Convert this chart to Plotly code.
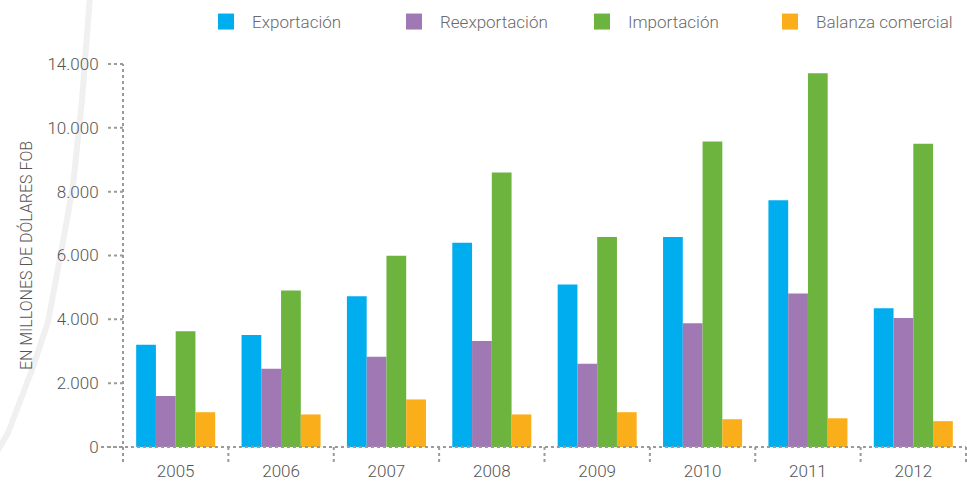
import plotly.graph_objects as go

years = ["2005", "2006", "2007", "2008", "2009", "2010", "2011", "2012"]
exportacion = [3200, 3510, 4720, 6400, 5090, 6580, 7730, 4350]
reexportacion = [1600, 2450, 2830, 3320, 2610, 3880, 4810, 4040]
importacion = [3630, 4900, 5990, 8600, 6580, 9570, 11710, 9500]
balanza = [1090, 1020, 1490, 1020, 1090, 870, 900, 810]

series_names = ["Exportación", "Reexportación", "Importación", "Balanza comercial"]
series_values = [exportacion, reexportacion, importacion, balanza]
series_colors = ["#00AEEF", "#A078B4", "#6DB43F", "#FAAE1A"]

y_tickvals = [0, 2000, 4000, 6000, 8000, 10000, 12000]
y_ticktext = ["0", "2.000", "4.000", "6.000", "8.000", "10.000", "14.000"]
y_max = 12000

COND = "Roboto, Liberation Sans, sans-serif"
TXT = "#555555"
DOT = "#9a9a9a"

fig = go.Figure()
for name, vals, col in zip(series_names, series_values, series_colors):
    fig.add_trace(go.Bar(x=years, y=vals, name=name, marker=dict(color=col, line=dict(width=0)),
                         showlegend=False))
# legend proxies (draw nothing, only legend squares)
for name, col in zip(series_names, series_colors):
    fig.add_trace(go.Scatter(x=[None], y=[None], mode="markers", name=name,
                             marker=dict(symbol="square", size=18, color=col)))

W, H = 967, 487
L, R, T, B = 123, 1, 64, 40
pw, ph = W - L - R, H - T - B

def px_to_paper(px, py):
    return (px - L) / pw, (H - B - py) / ph

shapes = []
line_style = dict(color=DOT, width=2, dash="dot")
# y axis line
shapes.append(dict(type="line", xref="paper", yref="paper", x0=0, x1=0, y0=-15 / ph, y1=1, line=line_style))
# x axis line
shapes.append(dict(type="line", xref="paper", yref="paper", x0=-22 / pw, x1=1, y0=0, y1=0, line=line_style))
# y ticks
for v in y_tickvals:
    yp = v / y_max
    shapes.append(dict(type="line", xref="paper", yref="paper", x0=-15 / pw, x1=0, y0=yp, y1=yp, line=line_style))
# x ticks at category boundaries
n = len(years)
for i in range(n + 1):
    xp = i / n
    shapes.append(dict(type="line", xref="paper", yref="paper", x0=xp, x1=xp, y0=0, y1=-15 / ph, line=line_style))

# decorative background arc
arc_px = [(90, -5), (82, 100), (73, 185), (63, 242), (48, 322), (33, 367), (8, 433), (-5, 455)]
pts = [px_to_paper(a, b) for a, b in arc_px]
path = "M " + " L ".join(f"{x:.4f},{y:.4f}" for x, y in pts)
shapes.append(dict(type="path", xref="paper", yref="paper", path=path, layer="below",
                   fillcolor="rgba(0,0,0,0)", line=dict(color="#f0f0f0", width=6)))

cond_font = lambda size: dict(family=COND, size=size, color=TXT, weight=300)

fig.update_layout(
    width=W, height=H,
    margin=dict(l=L, r=R, t=T, b=B, pad=0, autoexpand=False),
    paper_bgcolor="white", plot_bgcolor="white",
    barmode="group", bargap=0.25, bargroupgap=0,
    shapes=shapes,
    showlegend=True,
    legend=dict(orientation="h", x=(200 - L) / pw, xanchor="left", y=(H - B - 22) / ph, yanchor="middle",
                itemwidth=42, entrywidth=131, entrywidthmode="pixels",
                font=dict(family="Roboto, Liberation Sans, sans-serif", size=17, color="#6a6a6a", weight=300),
                bgcolor="rgba(0,0,0,0)", itemclick=False),
    xaxis=dict(showgrid=False, zeroline=False, showline=False, ticks="outside", ticklen=9,
               tickcolor="rgba(0,0,0,0)", tickfont=cond_font(17),
               fixedrange=True),
    yaxis=dict(range=[0, y_max], tickvals=y_tickvals, ticktext=y_ticktext, showgrid=False,
               zeroline=False, showline=False, ticks="outside", ticklen=20, tickcolor="rgba(0,0,0,0)",
               tickfont=cond_font(17),
               title=dict(text="EN MILLONES DE DÓLARES FOB", standoff=10, font=cond_font(16)),
               fixedrange=True),
)

fig.write_html("out.html", config={"displayModeBar": False},
               post_script="document.body.style.margin='0';document.body.style.overflow='hidden';")
